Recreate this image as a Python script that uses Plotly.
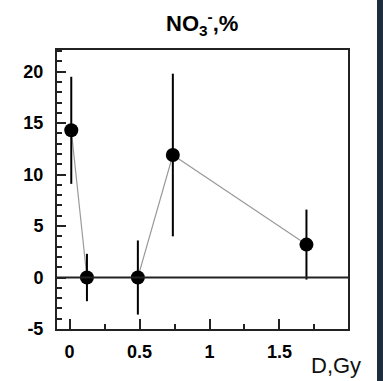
import plotly.graph_objects as go

# Dose (Gy) and nitrate change (%) with uncertainties
dose = [0.012, 0.124, 0.488, 0.738, 1.693]
nitrate = [14.3, 0.0, 0.0, 11.9, 3.2]
nitrate_err = [5.2, 2.3, 3.6, 7.9, 3.4]

x_ticks = [0, 0.5, 1, 1.5]
x_labels = ["0", "0.5", "1", "1.5"]
y_ticks = [-5, 0, 5, 10, 15, 20]
y_labels = ["-5", "0", "5", "10", "15", "20"]

FONT = "Liberation Sans, Arial, sans-serif"

fig = go.Figure()

# thin grey connecting line
fig.add_trace(go.Scatter(
    x=dose, y=nitrate, mode="lines",
    line=dict(color="#9a9a9a", width=1.2),
    hoverinfo="skip", showlegend=False,
))

# points with vertical error bars
fig.add_trace(go.Scatter(
    x=dose, y=nitrate, mode="markers",
    marker=dict(color="black", size=14),
    error_y=dict(type="data", array=nitrate_err, visible=True,
                 color="black", thickness=2, width=0),
    showlegend=False,
))

# zero reference line
fig.add_shape(type="line", xref="paper", x0=0, x1=1, yref="y", y0=0, y1=0,
              line=dict(color="#222", width=2), layer="above")

# dark strip at the right edge of the page
fig.add_shape(type="rect", xref="paper", yref="paper",
              x0=1.0997, x1=1.25, y0=-0.3, y1=1.3,
              fillcolor="#1e2d3c", line=dict(width=0), layer="below")

fig.update_xaxes(
    range=[-0.09, 1.99], tickvals=x_ticks,
    ticktext=[f"<b>{t}</b>" for t in x_labels],
    ticks="inside", ticklen=10, tickwidth=2, tickcolor="#222",
    minor=dict(dtick=0.25, tick0=0, ticks="inside", ticklen=5, tickwidth=2, tickcolor="#222"),
    showline=True, linecolor="#222", linewidth=2, mirror=True,
    showgrid=False, zeroline=False,
    tickfont=dict(family=FONT, size=18, color="black"),
    ticklabelstandoff=5,
)
fig.update_yaxes(
    range=[-5, 22.1], tickvals=y_ticks,
    ticktext=[f"<b>{t}</b>" for t in y_labels],
    ticks="inside", ticklen=9, tickwidth=2, tickcolor="#222",
    minor=dict(dtick=1, tick0=0, ticks="inside", ticklen=5, tickwidth=2, tickcolor="#222"),
    showline=True, linecolor="#222", linewidth=2, mirror=True,
    showgrid=False, zeroline=False,
    tickfont=dict(family=FONT, size=18, color="black"),
    ticklabelstandoff=8,
)

# title: nitrate ion
fig.add_annotation(
    text="<b>NO<sub>3</sub><sup>-</sup>,%</b>", xref="paper", yref="paper",
    x=0.497, y=1.095, xanchor="center", yanchor="middle", showarrow=False,
    font=dict(family=FONT, size=22, color="black"),
)

# axis label
fig.add_annotation(
    text="D,Gy", xref="paper", yref="paper",
    x=0.959, y=-0.13, xanchor="center", yanchor="middle", showarrow=False,
    font=dict(family=FONT, size=22, color="#111"),
)

fig.update_layout(
    width=383, height=381,
    margin=dict(l=57, r=35, t=50, b=52),
    paper_bgcolor="white", plot_bgcolor="white",
)

fig.write_html("out.html")
